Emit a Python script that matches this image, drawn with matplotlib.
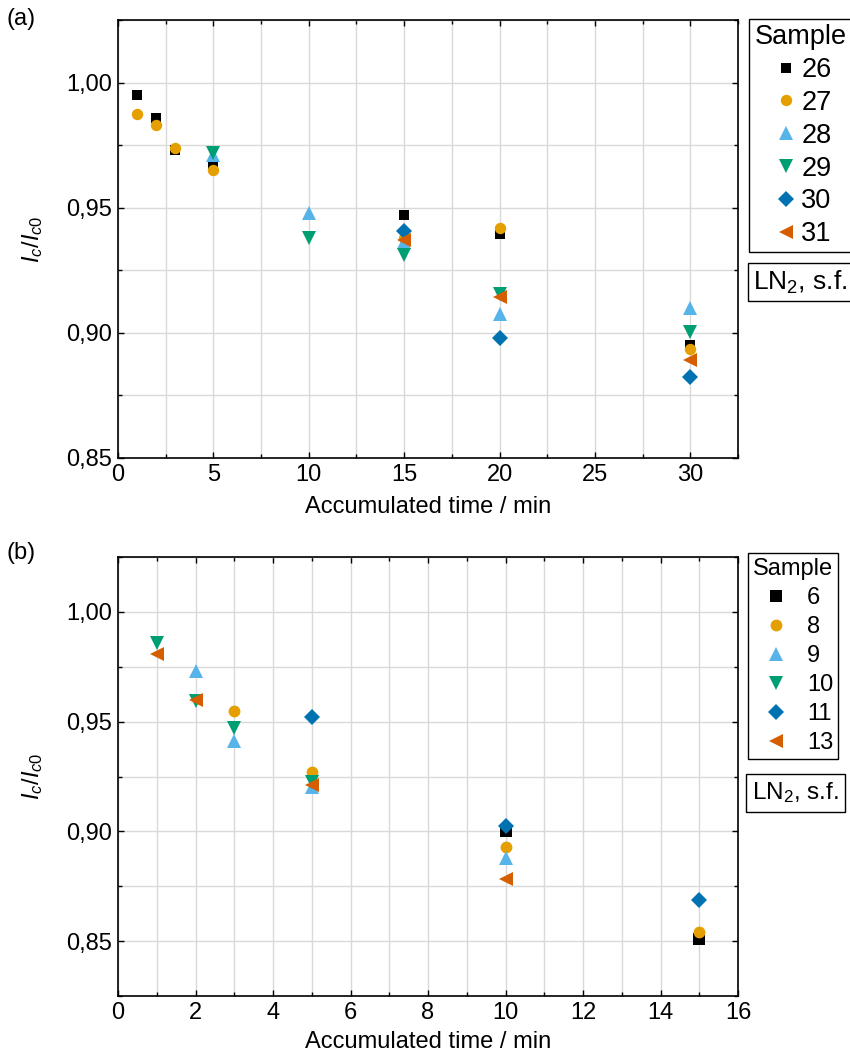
import numpy as np
import matplotlib.pyplot as plt
from matplotlib.ticker import MultipleLocator, FuncFormatter

plt.rcParams['font.family'] = ['Liberation Sans', 'DejaVu Sans']
plt.rcParams['mathtext.fontset'] = 'custom'
plt.rcParams['mathtext.rm'] = 'Liberation Sans'
plt.rcParams['mathtext.it'] = 'Liberation Sans:italic'

# ---- panel (a) data ----
a_samples = ["26", "27", "28", "29", "30", "31"]
a_time = {
    "26": [1, 2, 3, 5, 15, 20, 30],
    "27": [1, 2, 3, 5, 15, 20, 30],
    "28": [5, 10, 15, 20, 30],
    "29": [5, 10, 15, 20, 30],
    "30": [15, 20, 30],
    "31": [15, 20, 30],
}
a_ratio = {
    "26": [0.995, 0.986, 0.973, 0.967, 0.947, 0.9395, 0.895],
    "27": [0.9875, 0.983, 0.974, 0.965, 0.938, 0.942, 0.8935],
    "28": [0.971, 0.948, 0.9365, 0.9075, 0.910],
    "29": [0.972, 0.938, 0.931, 0.9155, 0.9005],
    "30": [0.9405, 0.898, 0.8825],
    "31": [0.937, 0.9145, 0.889],
}

# ---- panel (b) data ----
b_samples = ["6", "8", "9", "10", "11", "13"]
b_time = {
    "6": [10, 15],
    "8": [3, 5, 10, 15],
    "9": [2, 3, 5, 10],
    "10": [1, 2, 3, 5],
    "11": [5, 10, 15],
    "13": [1, 2, 5, 10],
}
b_ratio = {
    "6": [0.900, 0.851],
    "8": [0.955, 0.927, 0.8927, 0.854],
    "9": [0.973, 0.941, 0.920, 0.888],
    "10": [0.986, 0.9594, 0.947, 0.9225],
    "11": [0.952, 0.9026, 0.8687],
    "13": [0.981, 0.960, 0.921, 0.8783],
}

markers = ["s", "o", "^", "v", "D", "<"]
colores = ["#000000", "#E69F00", "#56B4E9", "#009E73", "#0072B2", "#D55E00"]
tamanos = [7.7, 8.2, 9.5, 9.5, 7.7, 9.5]

fig = plt.figure(figsize=(8.5, 10.56), dpi=100)
ax1 = fig.add_axes([118 / 850, 1 - 458 / 1056, 620 / 850, 438 / 1056])
ax2 = fig.add_axes([118 / 850, 1 - 996 / 1056, 620 / 850, 439 / 1056])

coma = FuncFormatter(lambda v, p: f"{v:.2f}".replace(".", ","))


def estilo(ax, xlim, ylim, xmaj, xmin, xlab_y):
    ax.set_xlim(*xlim)
    ax.set_ylim(*ylim)
    ax.xaxis.set_major_locator(MultipleLocator(xmaj))
    ax.xaxis.set_minor_locator(MultipleLocator(xmin))
    ax.yaxis.set_major_locator(MultipleLocator(0.05))
    ax.yaxis.set_minor_locator(MultipleLocator(0.025))
    ax.yaxis.set_major_formatter(coma)
    ax.grid(True, which="both", color="#d9d9d9", linewidth=1.0)
    ax.set_axisbelow(True)
    ax.tick_params(which="both", direction="in", top=True, right=True,
                   labelsize=17, width=1.0, colors="black")
    ax.tick_params(which="major", length=4.5, pad=4)
    ax.tick_params(which="minor", length=3)
    for s in ax.spines.values():
        s.set_linewidth(1.2)
    ax.set_xlabel("Accumulated time / min", fontsize=17, va="top")
    ax.set_ylabel("$I_c/I_{c0}$", fontsize=17)
    ax.xaxis.set_label_coords(0.5, xlab_y)
    ax.yaxis.set_label_coords(-0.118, 0.5)


def dibujar(ax, samples, tiempos, valores, ms_extra):
    for i, s in enumerate(samples):
        ax.plot(tiempos[s], valores[s], linestyle="none", marker=markers[i],
                color=colores[i], markersize=tamanos[i] + ms_extra,
                markeredgewidth=0, label=s, clip_on=False)


dibujar(ax1, a_samples, a_time, a_ratio, 0)
estilo(ax1, (0, 32.5), (0.85, 1.025), 5, 2.5, -0.086)

dibujar(ax2, b_samples, b_time, b_ratio, 0.3)
estilo(ax2, (0, 16), (0.825, 1.025), 2, 1, -0.079)

leg1 = fig.legend(*ax1.get_legend_handles_labels(), loc="upper left",
                  bbox_to_anchor=(749 / 850, 1 - 19 / 1056), title="Sample",
                  fontsize=19.5, title_fontsize=19.5, frameon=True,
                  fancybox=False, edgecolor="black", framealpha=1,
                  handlelength=2.36, handletextpad=-0.63, labelspacing=0.25,
                  borderpad=0.2, borderaxespad=0, alignment="left")
leg1.get_frame().set_linewidth(1.0)

leg2 = fig.legend(*ax2.get_legend_handles_labels(), loc="upper left",
                  bbox_to_anchor=(748 / 850, 1 - 553 / 1056), title="Sample",
                  fontsize=17, title_fontsize=17, frameon=True, fancybox=False,
                  edgecolor="black", framealpha=1, handlelength=2.0,
                  handletextpad=0.3, labelspacing=0.3, borderpad=0.2,
                  borderaxespad=0, alignment="left")
leg2.get_frame().set_linewidth(1.0)

fig.text(753 / 850, 1 - 282 / 1056, "LN$_2$, s.f.", fontsize=19, va="center",
         ha="left",
         bbox=dict(boxstyle="square,pad=0.2", fc="white", ec="black", lw=1.0))
fig.text(752 / 850, 1 - 793 / 1056, "LN$_2$, s.f.", fontsize=17.5,
         va="center", ha="left",
         bbox=dict(boxstyle="square,pad=0.25", fc="white", ec="black", lw=1.0))

fig.text(6 / 850, 1 - 19 / 1056, "(a)", fontsize=17, va="center", ha="left")
fig.text(6 / 850, 1 - 553 / 1056, "(b)", fontsize=17, va="center", ha="left")

fig.savefig("out.png", dpi=100)
plt.close(fig)
